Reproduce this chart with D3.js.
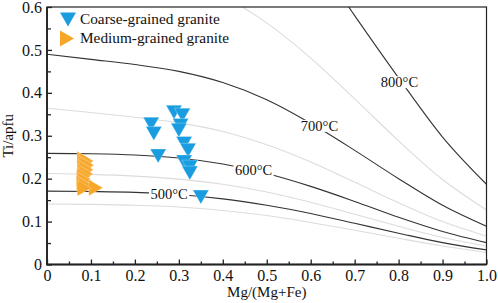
<!DOCTYPE html>
<html>
<head>
<meta charset="utf-8">
<script src="https://cdn.jsdelivr.net/npm/d3@7"></script>
<style>
  body { margin: 0; background: #fff; }
  svg text { font-family: "Liberation Serif", "Times New Roman", serif; fill: #111; }
</style>
</head>
<body>
<script>
// chart size (same as the window)
const width = 498, height = 303;
const margin = {top: 7, right: 11.5, bottom: 38.5, left: 47};

// Mg/(Mg+Fe) positions where the isotherms were read
const xMg = [0, 0.1, 0.2, 0.3, 0.4, 0.5, 0.6, 0.7, 0.8, 0.9, 1.0];
// Ti/apfu of each isotherm at those positions
const t450 = [0.141, 0.140, 0.138, 0.134, 0.126, 0.114, 0.098, 0.080, 0.061, 0.043, 0.028];
const t500 = [0.171, 0.170, 0.168, 0.163, 0.153, 0.138, 0.119, 0.096, 0.073, 0.051, 0.034];
const t550 = [0.212, 0.210, 0.206, 0.199, 0.187, 0.169, 0.145, 0.117, 0.089, 0.063, 0.043];
const t600 = [0.259, 0.258, 0.255, 0.248, 0.234, 0.212, 0.182, 0.147, 0.110, 0.077, 0.051];
const t650 = [0.364, 0.354, 0.343, 0.330, 0.310, 0.279, 0.239, 0.192, 0.144, 0.100, 0.066];
const t700 = [0.490, 0.478, 0.466, 0.450, 0.424, 0.384, 0.329, 0.266, 0.200, 0.138, 0.089];
const t750 = [0.700, 0.697, 0.688, 0.666, 0.625, 0.563, 0.481, 0.386, 0.288, 0.198, 0.127];
const t800 = [1.070, 1.068, 1.050, 1.020, 0.960, 0.860, 0.730, 0.580, 0.435, 0.297, 0.187];

// isotherm labels: text + where the label sits
const isoLabels = [
  {text: "500°C", x: 0.278, y: 0.165},
  {text: "600°C", x: 0.470, y: 0.220},
  {text: "700°C", x: 0.620, y: 0.323},
  {text: "800°C", x: 0.802, y: 0.425}
];

// biotite analyses [Mg/(Mg+Fe), Ti/apfu]
const coarse = [
  [0.237, 0.327], [0.243, 0.305], [0.253, 0.253],
  [0.289, 0.355], [0.308, 0.348], [0.304, 0.324], [0.300, 0.313],
  [0.312, 0.282], [0.321, 0.266], [0.312, 0.239], [0.325, 0.227],
  [0.325, 0.213], [0.350, 0.157]
];
const medium = [
  [0.084, 0.245], [0.090, 0.241], [0.087, 0.236], [0.091, 0.231],
  [0.086, 0.226], [0.090, 0.221], [0.085, 0.216], [0.089, 0.211],
  [0.084, 0.206], [0.083, 0.200], [0.086, 0.195], [0.083, 0.189],
  [0.088, 0.184], [0.111, 0.179], [0.085, 0.178]
];

const xTicks = [0, 0.1, 0.2, 0.3, 0.4, 0.5, 0.6, 0.7, 0.8, 0.9, 1.0];
const xTickLabels = ["0", "0.1", "0.2", "0.3", "0.4", "0.5", "0.6", "0.7", "0.8", "0.9", "1.0"];
const yTicks = [0, 0.1, 0.2, 0.3, 0.4, 0.5, 0.6];
const yTickLabels = ["0", "0.1", "0.2", "0.3", "0.4", "0.5", "0.6"];

const blue = "#1a9de0", orange = "#f6a72a";

const svg = d3.select("body").append("svg")
    .attr("width", width)
    .attr("height", height);

const x = d3.scaleLinear().domain([0, 1]).range([margin.left, width - margin.right]);
const y = d3.scaleLinear().domain([0, 0.6]).range([height - margin.bottom, margin.top]);

svg.append("clipPath").attr("id", "plot")
  .append("rect")
    .attr("x", x(0)).attr("y", y(0.6))
    .attr("width", x(1) - x(0)).attr("height", y(0) - y(0.6));

// isotherms
const isotherms = [
  {v: t450, major: false}, {v: t550, major: false},
  {v: t650, major: false}, {v: t750, major: false},
  {v: t500, major: true}, {v: t600, major: true},
  {v: t700, major: true}, {v: t800, major: true}
];

const line = d3.line()
    .x((d, i) => x(xMg[i]))
    .y(d => y(d))
    .curve(d3.curveMonotoneX);

svg.append("g").attr("clip-path", "url(#plot)")
  .selectAll("path")
  .data(isotherms)
  .enter().append("path")
    .attr("d", d => line(d.v))
    .attr("fill", "none")
    .attr("stroke", d => d.major ? "#333" : "#dcdcdc")
    .attr("stroke-width", 1.1);

// labels sit on the line with a white box behind them
const lab = svg.append("g").selectAll("g")
  .data(isoLabels)
  .enter().append("g");
lab.append("text")
    .attr("x", d => x(d.x))
    .attr("y", d => y(d.y))
    .attr("dy", "0.35em")
    .attr("text-anchor", "middle")
    .attr("font-size", "14.5px")
    .text(d => d.text);
lab.each(function() {
  const g = d3.select(this);
  const b = g.select("text").node().getBBox();
  g.insert("rect", "text")
    .attr("x", b.x - 1.5).attr("y", b.y + 2)
    .attr("width", b.width + 3).attr("height", b.height - 4)
    .attr("fill", "#fff");
});

// markers
const downTri = "M-8,-7L8,-7L0,7Z";
const rightTri = "M-7,-8L7,0L-7,8Z";

svg.append("g").selectAll("path")
  .data(medium)
  .enter().append("path")
    .attr("d", rightTri)
    .attr("transform", d => `translate(${x(d[0])},${y(d[1])})`)
    .attr("fill", orange)
    .attr("stroke", "#fff")
    .attr("stroke-opacity", 0.6)
    .attr("stroke-width", 0.35);

svg.append("g").selectAll("path")
  .data(coarse)
  .enter().append("path")
    .attr("d", downTri)
    .attr("transform", d => `translate(${x(d[0])},${y(d[1])})`)
    .attr("fill", blue)
    .attr("stroke", "#fff")
    .attr("stroke-opacity", 0.7)
    .attr("stroke-width", 0.4);

// axes: ticks point inward, minor ticks every 0.05
const xAxis = d3.axisBottom(x)
    .tickValues(xTicks)
    .tickFormat((d, i) => xTickLabels[i])
    .tickSizeInner(-5).tickSizeOuter(0).tickPadding(5);
const xMinor = d3.axisBottom(x)
    .tickValues(xTicks.slice(0, -1).map(d => d + 0.05))
    .tickFormat("")
    .tickSizeInner(-3).tickSizeOuter(0);
const yAxis = d3.axisLeft(y)
    .tickValues(yTicks)
    .tickFormat((d, i) => yTickLabels[i])
    .tickSizeInner(-5).tickSizeOuter(0).tickPadding(5);
const yMinor = d3.axisLeft(y)
    .tickValues(yTicks.slice(0, -1).map(d => d + 0.05))
    .tickFormat("")
    .tickSizeInner(-4).tickSizeOuter(0);

function styleAxis(g) {
  g.select(".domain").remove();
  g.attr("font-family", null);
  g.selectAll("line").attr("stroke", "#222").attr("stroke-width", 1.3);
  g.selectAll("text")
    .style("font-family", "'Liberation Serif', 'Times New Roman', serif")
    .attr("font-size", "16px")
    .attr("fill", "#111");
}

svg.append("g").attr("transform", `translate(0,${y(0)})`).call(xAxis).call(styleAxis);
svg.append("g").attr("transform", `translate(0,${y(0)})`).call(xMinor).call(styleAxis);
svg.append("g").attr("transform", `translate(${x(0)},0)`).call(yAxis).call(styleAxis);
svg.append("g").attr("transform", `translate(${x(0)},0)`).call(yMinor).call(styleAxis);

// frame
svg.append("rect")
    .attr("x", x(0)).attr("y", y(0.6))
    .attr("width", x(1) - x(0)).attr("height", y(0) - y(0.6))
    .attr("fill", "none").attr("stroke", "#222").attr("stroke-width", 1.2);
svg.append("path")
    .attr("d", `M${x(0)},${y(0.6)}V${y(0)}H${x(1)}`)
    .attr("fill", "none").attr("stroke", "#222").attr("stroke-width", 1.8);

// axis titles
svg.append("text")
    .attr("x", (x(0) + x(1)) / 2)
    .attr("y", 297)
    .attr("text-anchor", "middle")
    .attr("font-size", "15px")
    .text("Mg/(Mg+Fe)");
svg.append("text")
    .attr("transform", `translate(13,${(y(0) + y(0.6)) / 2}) rotate(-90)`)
    .attr("text-anchor", "middle")
    .attr("font-size", "15px")
    .text("Ti/apfu");

// legend
const legend = svg.append("g");
legend.append("path").attr("d", downTri)
    .attr("transform", "translate(68,19.5)").attr("fill", blue);
legend.append("text").attr("x", 80).attr("y", 24)
    .attr("font-size", "15.3px").text("Coarse-grained granite");
legend.append("path").attr("d", rightTri)
    .attr("transform", "translate(67,38.5)").attr("fill", orange);
legend.append("text").attr("x", 80).attr("y", 43)
    .attr("font-size", "15.3px").text("Medium-grained granite");
</script>
</body>
</html>
